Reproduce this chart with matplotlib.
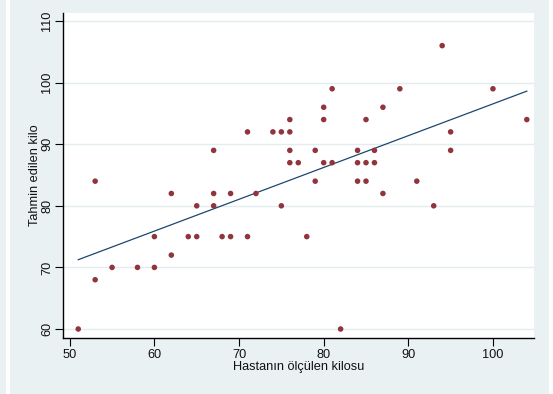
import numpy as np
import matplotlib
matplotlib.use("Agg")
import matplotlib.pyplot as plt
from matplotlib.patches import Rectangle

plt.rcParams['font.family'] = ['Liberation Sans', 'DejaVu Sans']

# measured weight (kg) and estimated weight (kg) per patient
olculen = [51, 53, 53, 55, 58, 60, 60, 62, 62, 64,
           65, 65, 67, 67, 67, 68, 69, 69, 71, 71,
           72, 74, 75, 75, 76, 76, 76, 76, 77, 78,
           79, 79, 80, 80, 80, 81, 81, 82, 84, 84,
           84, 85, 85, 85, 86, 86, 87, 87, 89, 91,
           93, 94, 95, 95, 100, 104]
tahmin = [60, 68, 84, 70, 70, 70, 75, 72, 82, 75,
          75, 80, 80, 82, 89, 75, 75, 82, 75, 92,
          82, 92, 80, 92, 87, 89, 92, 94, 87, 75,
          84, 89, 87, 94, 96, 87, 99, 60, 84, 87,
          89, 84, 87, 94, 87, 89, 82, 96, 99, 84,
          80, 106, 89, 92, 99, 94]

x_ticks = [50, 60, 70, 80, 90, 100]
y_ticks = [60, 70, 80, 90, 100, 110]

bg = '#e9f1f3'
fig = plt.figure(figsize=(5.53, 3.94), dpi=100, facecolor='white')
# Stata-like graph region behind the axes
fig.patches.append(Rectangle((0, 0), 6 / 553, 1, transform=fig.transFigure,
                             facecolor=bg, edgecolor='none', zorder=-5))
fig.patches.append(Rectangle((10 / 553, 0), 539 / 553, 1, transform=fig.transFigure,
                             facecolor=bg, edgecolor='none', zorder=-5))

ax = fig.add_axes([63 / 553, 1 - 338 / 394, 471 / 553, 325 / 394])
ax.set_facecolor('white')

# linear fit
b, a = np.polyfit(olculen, tahmin, 1)
xs = np.array([min(olculen), max(olculen)])
ax.plot(xs, a + b * xs, color='#1a476f', lw=0.9, zorder=2)

ax.scatter(olculen, tahmin, s=16, marker='o', color='#90353b',
           edgecolors='none', zorder=3)

ax.set_xlim(49.2, 104.85)
ax.set_ylim(58.54, 111.3)
ax.set_xticks(x_ticks)
ax.set_yticks(y_ticks)
ax.set_yticklabels([str(v) for v in y_ticks], rotation=90, va='center')
ax.grid(axis='y', color='#e3ecef', lw=1.0)
ax.set_axisbelow(True)

for side in ['top', 'right']:
    ax.spines[side].set_visible(False)
for side in ['left', 'bottom']:
    ax.spines[side].set_color('black')
    ax.spines[side].set_linewidth(1.0)

ax.tick_params(axis='both', length=6, width=0.8, color='black',
               labelsize=9.2, labelcolor='#111111', pad=2)
ax.tick_params(axis='y', pad=1)

ax.set_xlabel('Hastanın ölçülen kilosu', fontsize=9.2, color='#111111', labelpad=0)
ax.set_ylabel('Tahmin edilen kilo', fontsize=9.2, color='#111111', labelpad=0)

fig.savefig('out.png', dpi=100, facecolor=fig.get_facecolor())
